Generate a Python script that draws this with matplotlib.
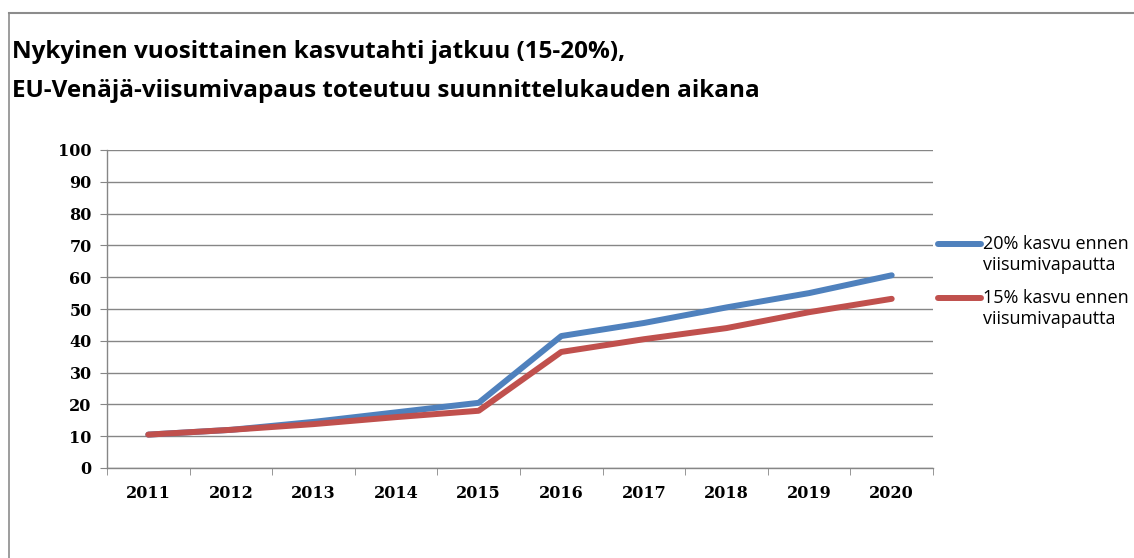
import matplotlib
matplotlib.use("Agg")
import matplotlib.pyplot as plt
from matplotlib.lines import Line2D

years = ["2011", "2012", "2013", "2014", "2015", "2016", "2017", "2018", "2019", "2020"]
kasvu_20 = [10.5, 12.0, 14.5, 17.5, 20.5, 41.5, 45.6, 50.5, 55.0, 60.6]
kasvu_15 = [10.5, 12.0, 13.8, 16.0, 18.0, 36.5, 40.5, 44.0, 49.0, 53.2]
labels = ["20% kasvu ennen\nviisumivapautta", "15% kasvu ennen\nviisumivapautta"]
title_lines = ["Nykyinen vuosittainen kasvutahti jatkuu (15-20%),",
               "EU-Venäjä-viisumivapaus toteutuu suunnittelukauden aikana"]

W, H = 1134, 558
fig = plt.figure(figsize=(W / 100, H / 100), dpi=100)

# frame of the slide: only top and left edges show
fig.add_artist(Line2D([9 / W, 9 / W], [0, 1 - 13 / H], color="#8c8c8c", lw=1.2))
fig.add_artist(Line2D([9 / W, 1], [1 - 13 / H, 1 - 13 / H], color="#8c8c8c", lw=1.5))

for i, t in enumerate(title_lines):
    fig.text(12 / W, 1 - (58 + 39 * i) / H, t, fontsize=17.5, fontweight="bold",
             family="Open Sans", color="black", va="baseline", ha="left")

ax = fig.add_axes([107 / W, 1 - 468 / H, (933 - 107) / W, (468 - 150) / H])
x = list(range(len(years)))
ax.plot(x, kasvu_20, color="#4F81BD", lw=4.3, solid_capstyle="round", label=labels[0])
ax.plot(x, kasvu_15, color="#C0504D", lw=4.3, solid_capstyle="round", label=labels[1])

ax.set_xlim(-0.5, len(years) - 0.5)
ax.set_ylim(0, 100)
ax.set_yticks(range(0, 101, 10))
ax.set_xticks(x)
ax.set_xticklabels(years)
ax.set_xticks([i - 0.5 for i in range(len(years) + 1)], minor=True)
ax.tick_params(axis="x", which="major", length=0, pad=12)
ax.tick_params(axis="x", which="minor", length=5, color="#868686", direction="out")
ax.tick_params(axis="y", length=5, color="#868686", pad=6)
for lab in ax.get_xticklabels() + ax.get_yticklabels():
    lab.set_family("DejaVu Serif")
    lab.set_fontweight("bold")
    lab.set_fontsize(11.5)

ax.grid(axis="y", color="#868686", lw=1)
ax.set_axisbelow(True)
for s in ["top", "right"]:
    ax.spines[s].set_visible(False)
for s in ["left", "bottom"]:
    ax.spines[s].set_color("#868686")
    ax.spines[s].set_linewidth(1)

leg = ax.legend(loc="upper left", bbox_to_anchor=(0.997, 0.755), frameon=False,
                handlelength=2.4, handletextpad=0.1, labelspacing=0.85,
                prop={"family": "Open Sans", "size": 13}, borderaxespad=0)
# put each legend line level with the first row of its label
for h in leg.legend_handles:
    h.set_ydata([y + 8.0 for y in h.get_ydata()])

fig.savefig("out.png", dpi=100)
